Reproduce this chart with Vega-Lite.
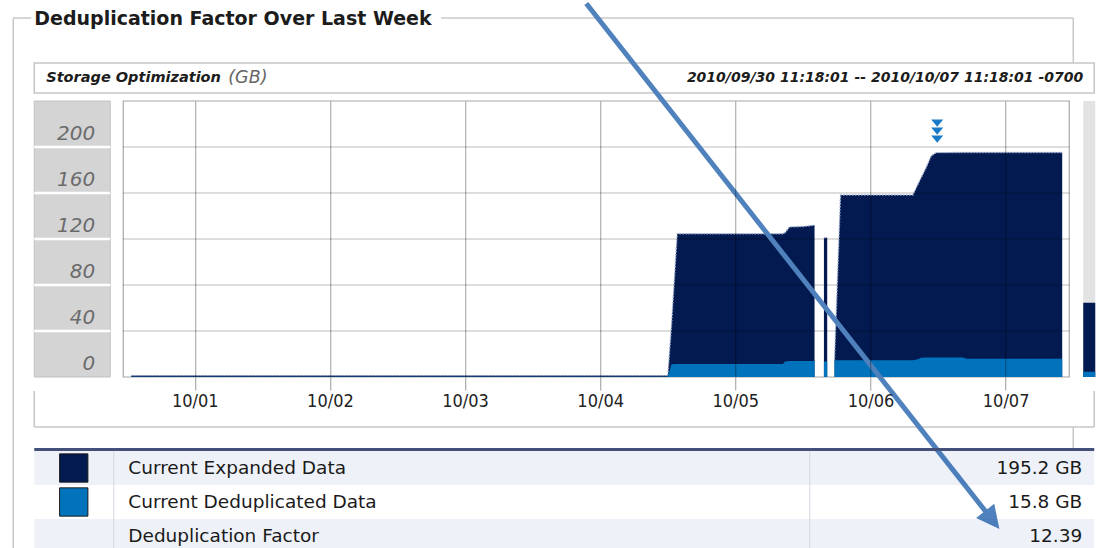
{
  "$schema": "https://vega.github.io/schema/vega-lite/v6.json",
  "background": "white",
  "padding": {"left": 11.25, "top": 0, "right": 0, "bottom": 0},
  "autosize": {"type": "pad"},
  "config": {"view": {"stroke": null}, "axis": {"title": null}},
  "datasets": {
    "usage": [
      {"time": "2010-09-30T12:43", "expanded": 1.2, "dedup": 0.3},
      {"time": "2010-10-01T00:00", "expanded": 1.2, "dedup": 0.3},
      {"time": "2010-10-01T12:00", "expanded": 1.2, "dedup": 0.3},
      {"time": "2010-10-02T00:00", "expanded": 1.2, "dedup": 0.3},
      {"time": "2010-10-02T12:00", "expanded": 1.2, "dedup": 0.3},
      {"time": "2010-10-03T00:00", "expanded": 1.2, "dedup": 0.3},
      {"time": "2010-10-03T12:00", "expanded": 1.2, "dedup": 0.3},
      {"time": "2010-10-04T00:00", "expanded": 1.2, "dedup": 0.3},
      {"time": "2010-10-04T12:01", "expanded": 1.2, "dedup": 0.3},
      {"time": "2010-10-04T12:40", "expanded": 45, "dedup": 11.0},
      {"time": "2010-10-04T13:41", "expanded": 124.5, "dedup": 11.2},
      {"time": "2010-10-04T18:00", "expanded": 124.5, "dedup": 11.2},
      {"time": "2010-10-05T00:00", "expanded": 124.5, "dedup": 11.3},
      {"time": "2010-10-05T08:27", "expanded": 124.5, "dedup": 11.3},
      {"time": "2010-10-05T08:50", "expanded": 125.5, "dedup": 13.5},
      {"time": "2010-10-05T09:38", "expanded": 130.5, "dedup": 13.9},
      {"time": "2010-10-05T12:00", "expanded": 130.8, "dedup": 13.9},
      {"time": "2010-10-05T14:04", "expanded": 132.0, "dedup": 14.0},
      {"time": "2010-10-05T14:30", "expanded": null, "dedup": null},
      {"time": "2010-10-05T15:44", "expanded": 121.0, "dedup": 13.5},
      {"time": "2010-10-05T16:19", "expanded": 121.0, "dedup": 13.5},
      {"time": "2010-10-05T17:00", "expanded": null, "dedup": null},
      {"time": "2010-10-05T17:37", "expanded": 14.5, "dedup": 14.5},
      {"time": "2010-10-05T18:41", "expanded": 158.3, "dedup": 14.6},
      {"time": "2010-10-06T00:00", "expanded": 158.3, "dedup": 14.6},
      {"time": "2010-10-06T07:32", "expanded": 158.3, "dedup": 14.6},
      {"time": "2010-10-06T08:25", "expanded": 167.5, "dedup": 15.5},
      {"time": "2010-10-06T09:00", "expanded": 173.3, "dedup": 16.8},
      {"time": "2010-10-06T09:53", "expanded": 182.0, "dedup": 16.9},
      {"time": "2010-10-06T10:47", "expanded": 192.2, "dedup": 16.9},
      {"time": "2010-10-06T11:40", "expanded": 195.1, "dedup": 16.9},
      {"time": "2010-10-06T16:30", "expanded": 195.2, "dedup": 16.9},
      {"time": "2010-10-06T17:00", "expanded": 195.2, "dedup": 15.8},
      {"time": "2010-10-07T00:00", "expanded": 195.2, "dedup": 15.8},
      {"time": "2010-10-07T10:03", "expanded": 195.2, "dedup": 15.8}
    ],
    "markers": [
      {"time": "2010-10-06T11:51", "gb": 220.8},
      {"time": "2010-10-06T11:51", "gb": 213.8},
      {"time": "2010-10-06T11:51", "gb": 206.9}
    ],
    "arrow": [
      {"t1": "2010-10-03T21:32", "g1": 324.8, "t2": "2010-10-06T21:38", "g2": -124.3}
    ],
    "gridlines": [{"gb": 40}, {"gb": 80}, {"gb": 120}, {"gb": 160}, {"gb": 200}],
    "cells": [
      {"gb": 0, "gb2": 40}, {"gb": 40, "gb2": 80}, {"gb": 80, "gb2": 120},
      {"gb": 120, "gb2": 160}, {"gb": 160, "gb2": 200}, {"gb": 200, "gb2": 240}
    ],
    "current": [
      {"series": "Current Expanded Data", "gb": 64.5},
      {"series": "Current Deduplicated Data", "gb": 4.6}
    ],
    "table": [
      {"item": "Current Expanded Data", "value": "195.2 GB", "swatch": "Current Expanded Data"},
      {"item": "Current Deduplicated Data", "value": "15.8 GB", "swatch": "Current Deduplicated Data"},
      {"item": "Deduplication Factor", "value": "12.39", "swatch": null}
    ]
  },
  "bounds": "flush",
  "spacing": 8,
  "vconcat": [
    {
      "width": 1060,
      "height": 30,
      "view": {"stroke": "#c6c6c6", "strokeWidth": 1.5},
      "data": {"values": [{"title": "Deduplication Factor Over Last Week", "name": "Storage Optimization", "unit": "(GB)", "period": "2010/09/30 11:18:01 -- 2010/10/07 11:18:01 -0700"}]},
      "encoding": {"x": {"datum": 0, "type": "quantitative", "scale": {"domain": [0, 1], "nice": false, "zero": false}, "axis": null}},
      "layer": [
        {"mark": {"type": "rule", "color": "#c8c8c8", "strokeWidth": 1.5}, "encoding": {"x": {"datum": -0.01981, "type": "quantitative"}, "x2": {"datum": -0.01981}, "y": {"datum": 2.5, "type": "quantitative", "scale": {"domain": [0, 1], "nice": false, "zero": false}, "axis": null}, "y2": {"datum": -15.6}}},
        {"mark": {"type": "rule", "color": "#c8c8c8", "strokeWidth": 1.5}, "encoding": {"x": {"datum": -0.01981, "type": "quantitative"}, "x2": {"datum": -0.00283}, "y": {"datum": 2.5, "type": "quantitative", "axis": null}, "y2": {"datum": 2.5}}},
        {"mark": {"type": "rule", "color": "#c8c8c8", "strokeWidth": 1.5}, "encoding": {"x": {"datum": 0.38396, "type": "quantitative"}, "x2": {"datum": 0.98019}, "y": {"datum": 2.5, "type": "quantitative", "axis": null}, "y2": {"datum": 2.5}}},
        {"mark": {"type": "rule", "color": "#c8c8c8", "strokeWidth": 1.5}, "encoding": {"x": {"datum": 0.98019, "type": "quantitative"}, "x2": {"datum": 0.98019}, "y": {"datum": 2.5, "type": "quantitative", "axis": null}, "y2": {"datum": 1}}},
        {"mark": {"type": "rule", "color": "#c8c8c8", "strokeWidth": 1.5}, "encoding": {"x": {"datum": 0.98019, "type": "quantitative"}, "x2": {"datum": 0.98019}, "y": {"datum": -11.133, "type": "quantitative", "axis": null}, "y2": {"datum": -11.833}}},
        {"mark": {"type": "rule", "color": "#c6c6c6", "strokeWidth": 1.5}, "encoding": {"x": {"datum": 0, "type": "quantitative"}, "x2": {"datum": 0}, "y": {"datum": -9.933, "type": "quantitative", "axis": null}, "y2": {"datum": -11.133}}},
        {"mark": {"type": "rule", "color": "#c6c6c6", "strokeWidth": 1.5}, "encoding": {"x": {"datum": 0, "type": "quantitative"}, "x2": {"datum": 1}, "y": {"datum": -11.133, "type": "quantitative", "axis": null}, "y2": {"datum": -11.133}}},
        {"mark": {"type": "rule", "color": "#c6c6c6", "strokeWidth": 1.5}, "encoding": {"x": {"datum": 1, "type": "quantitative"}, "x2": {"datum": 1}, "y": {"datum": -9.933, "type": "quantitative", "axis": null}, "y2": {"datum": -11.133}}},
        {"mark": {"type": "text", "align": "left", "baseline": "alphabetic", "font": "DejaVu Sans", "fontSize": 19, "fontWeight": "bold", "color": "#1c1c1c"}, "encoding": {"y": {"datum": 2.2667, "type": "quantitative", "axis": null}, "text": {"field": "title", "type": "nominal"}}},
        {"mark": {"type": "text", "align": "left", "baseline": "middle", "dx": 12, "font": "DejaVu Sans", "fontSize": 14.5, "fontWeight": "bold", "fontStyle": "italic", "color": "#1c1c1c"}, "encoding": {"y": {"datum": 0.5, "type": "quantitative", "axis": null}, "text": {"field": "name", "type": "nominal"}}},
        {"mark": {"type": "text", "align": "left", "baseline": "middle", "dx": 194, "font": "DejaVu Sans", "fontSize": 17.5, "fontStyle": "italic", "color": "#666666"}, "encoding": {"y": {"datum": 0.5, "type": "quantitative", "axis": null}, "text": {"field": "unit", "type": "nominal"}}},
        {"mark": {"type": "text", "align": "right", "baseline": "middle", "dx": -11, "font": "DejaVu Sans", "fontSize": 14, "fontWeight": "bold", "fontStyle": "italic", "color": "#1c1c1c"}, "encoding": {"x": {"datum": 1, "type": "quantitative", "axis": null}, "y": {"datum": 0.5, "type": "quantitative", "axis": null}, "text": {"field": "period", "type": "nominal"}}}
      ]
    },
    {
      "width": 1062,
      "height": 276,
      "resolve": {"scale": {"x": "independent"}},
      "layer": [
        {
          "data": {"name": "cells"},
          "layer": [
            {"mark": {"type": "rect", "fill": "#d4d4d4", "stroke": "#c2c2c2", "strokeWidth": 1},
             "encoding": {
               "x": {"datum": 0, "type": "quantitative", "scale": {"domain": [0, 1], "range": [0, 76], "nice": false, "zero": false}, "axis": null},
               "x2": {"datum": 1},
               "y": {"field": "gb", "type": "quantitative", "scale": {"domain": [0, 240], "nice": false}, "axis": null},
               "y2": {"field": "gb2"}}},
            {"transform": [{"filter": "datum.gb > 0"}], "mark": {"type": "rule", "color": "white", "strokeWidth": 2.5},
             "encoding": {"x": {"datum": 0, "type": "quantitative", "axis": null}, "x2": {"datum": 1}, "y": {"field": "gb", "type": "quantitative", "axis": null}}},
            {"mark": {"type": "text", "align": "right", "baseline": "alphabetic", "dx": -15, "dy": -7, "font": "DejaVu Sans", "fontSize": 20, "fontStyle": "italic", "color": "#6b6b6b"},
             "encoding": {"x": {"datum": 1, "type": "quantitative", "axis": null}, "y": {"field": "gb", "type": "quantitative", "axis": null}, "text": {"field": "gb", "type": "quantitative"}}}
          ]
        },
        {
          "layer": [
            {
              "data": {"values": [{"panel": "plot area"}]},
              "mark": {"type": "rect", "fill": "white", "stroke": "#a6a6a6", "strokeWidth": 1.2},
              "encoding": {
                "x": {"datum": {"year": 2010, "month": 9, "date": 30, "hours": 11, "minutes": 18, "seconds": 1}, "type": "temporal",
                  "scale": {"domain": [{"year": 2010, "month": 9, "date": 30, "hours": 11, "minutes": 18, "seconds": 1}, {"year": 2010, "month": 10, "date": 7, "hours": 11, "minutes": 18, "seconds": 1}], "range": [89, 1035]},
                  "axis": {"orient": "bottom", "grid": true, "gridColor": "#000000", "gridOpacity": 0.38, "tickColor": "#9a9a9a", "tickSize": 13, "labelPadding": 2.5, "labelFont": "Liberation Sans Narrow, DejaVu Sans Condensed, Liberation Sans", "labelFontSize": 18, "labelColor": "#222222", "format": "%m/%d", "tickCount": {"interval": "day", "step": 1}, "domain": false, "title": null, "zindex": 1, "labelFlush": false, "labelOverlap": false}},
                "x2": {"datum": {"year": 2010, "month": 10, "date": 7, "hours": 11, "minutes": 18, "seconds": 1}},
                "y": {"datum": 0, "type": "quantitative", "axis": null},
                "y2": {"datum": 240}
              }
            },
            {
              "data": {"name": "usage"},
              "mark": {"type": "area", "color": "#021a4f", "interpolate": "linear"},
              "encoding": {"x": {"field": "time", "type": "temporal"}, "y": {"field": "expanded", "type": "quantitative", "axis": null}}
            },
            {
              "data": {"name": "usage"},
              "mark": {"type": "line", "color": "#9aaad0", "strokeWidth": 1.4, "strokeDash": [1.5, 1.5]},
              "encoding": {"x": {"field": "time", "type": "temporal"}, "y": {"field": "expanded", "type": "quantitative", "axis": null}}
            },
            {
              "data": {"name": "usage"},
              "mark": {"type": "area", "color": "#0073bc", "interpolate": "linear"},
              "encoding": {"x": {"field": "time", "type": "temporal"}, "y": {"field": "dedup", "type": "quantitative", "axis": null}}
            },
            {
              "data": {"name": "gridlines"},
              "mark": {"type": "rule", "color": "#000000", "opacity": 0.27, "strokeWidth": 1},
              "encoding": {
                "x": {"datum": {"year": 2010, "month": 9, "date": 30, "hours": 11, "minutes": 18, "seconds": 1}, "type": "temporal"},
                "x2": {"datum": {"year": 2010, "month": 10, "date": 7, "hours": 11, "minutes": 18, "seconds": 1}},
                "y": {"field": "gb", "type": "quantitative", "axis": null}
              }
            },
            {
              "data": {"name": "markers"},
              "mark": {"type": "point", "shape": "M-1,-0.6L1,-0.6L0,0.6Z", "filled": true, "size": 144, "color": "#1b7bc6", "opacity": 1},
              "encoding": {"x": {"field": "time", "type": "temporal"}, "y": {"field": "gb", "type": "quantitative", "axis": null}}
            },
            {
              "data": {"name": "arrow"},
              "mark": {"type": "rule", "color": "#4f81bd", "strokeWidth": 5},
              "encoding": {"x": {"field": "t1", "type": "temporal"}, "y": {"field": "g1", "type": "quantitative", "axis": null}, "x2": {"field": "t2"}, "y2": {"field": "g2"}}
            },
            {
              "data": {"name": "arrow"},
              "mark": {"type": "point", "shape": "M-1,-1L1,-1L0,1Z", "filled": true, "size": 530, "angle": 321.8, "color": "#4f81bd", "opacity": 1},
              "encoding": {"x": {"field": "t2", "type": "temporal"}, "y": {"field": "g2", "type": "quantitative", "axis": null}}
            }
          ]
        },
        {
          "layer": [
            {
              "data": {"values": [{"gb": 240}]},
              "mark": {"type": "rect", "fill": "#e3e3e3"},
              "encoding": {
                "x": {"datum": 0, "type": "quantitative", "scale": {"domain": [0, 1], "range": [1049, 1061], "nice": false, "zero": false}, "axis": null},
                "x2": {"datum": 1},
                "y": {"field": "gb", "type": "quantitative", "axis": null},
                "y2": {"datum": 0}
              }
            },
            {
              "data": {"name": "current"},
              "mark": {"type": "rect"},
              "encoding": {
                "x": {"datum": 0, "type": "quantitative", "axis": null},
                "x2": {"datum": 1},
                "y": {"field": "gb", "type": "quantitative", "axis": null},
                "y2": {"datum": 0},
                "fill": {"field": "series", "type": "nominal", "scale": {"domain": ["Current Expanded Data", "Current Deduplicated Data"], "range": ["#021a4f", "#0073bc"]}, "legend": null}
              }
            }
          ]
        }
      ]
    },
    {
      "width": 1060,
      "height": 168,
      "data": {"name": "table"},
      "encoding": {"y": {"field": "item", "type": "nominal", "sort": null, "axis": null, "scale": {"paddingInner": 0, "paddingOuter": 0.97059, "align": 1}}},
      "layer": [
        {"mark": {"type": "rect", "color": "#1f4f9f"}, "encoding": {"x": {"datum": 0, "type": "quantitative", "scale": {"domain": [0, 1], "nice": false}, "axis": null}, "x2": {"datum": 1}, "fillOpacity": {"condition": {"test": "datum.item === 'Current Deduplicated Data'", "value": 0}, "value": 0.075}}},
        {"mark": {"type": "rect", "color": "#d3d8e0"}, "encoding": {"x": {"datum": 0.07453, "type": "quantitative", "axis": null}, "x2": {"datum": 0.07547}}},
        {"mark": {"type": "rect", "color": "#d3d8e0"}, "encoding": {"x": {"datum": 0.73113, "type": "quantitative", "axis": null}, "x2": {"datum": 0.73208}}},
        {"transform": [{"filter": "datum.item === 'Current Expanded Data'"}], "mark": {"type": "rule", "color": "#43517a", "strokeWidth": 3, "yOffset": -1.5}, "encoding": {"y": {"field": "item", "type": "nominal", "bandPosition": 0}}},
        {"transform": [{"filter": "datum.swatch != null"}], "mark": {"type": "point", "shape": "square", "filled": true, "size": 800, "stroke": "#1a1a1a", "strokeWidth": 1, "opacity": 1}, "encoding": {"x": {"datum": 0.03726, "type": "quantitative", "axis": null}, "fill": {"field": "swatch", "type": "nominal", "scale": {"domain": ["Current Expanded Data", "Current Deduplicated Data"], "range": ["#021a4f", "#0073bc"]}, "legend": null}}},
        {"mark": {"type": "text", "align": "left", "baseline": "middle", "dx": 15, "font": "DejaVu Sans", "fontSize": 18.5, "color": "#1a1a1a"}, "encoding": {"x": {"datum": 0.07453, "type": "quantitative", "axis": null}, "text": {"field": "item", "type": "nominal"}}},
        {"mark": {"type": "text", "align": "right", "baseline": "middle", "dx": -12, "font": "DejaVu Sans", "fontSize": 18.5, "color": "#1a1a1a"}, "encoding": {"x": {"datum": 1, "type": "quantitative", "axis": null}, "text": {"field": "value", "type": "nominal"}}}
      ]
    }
  ]
}
